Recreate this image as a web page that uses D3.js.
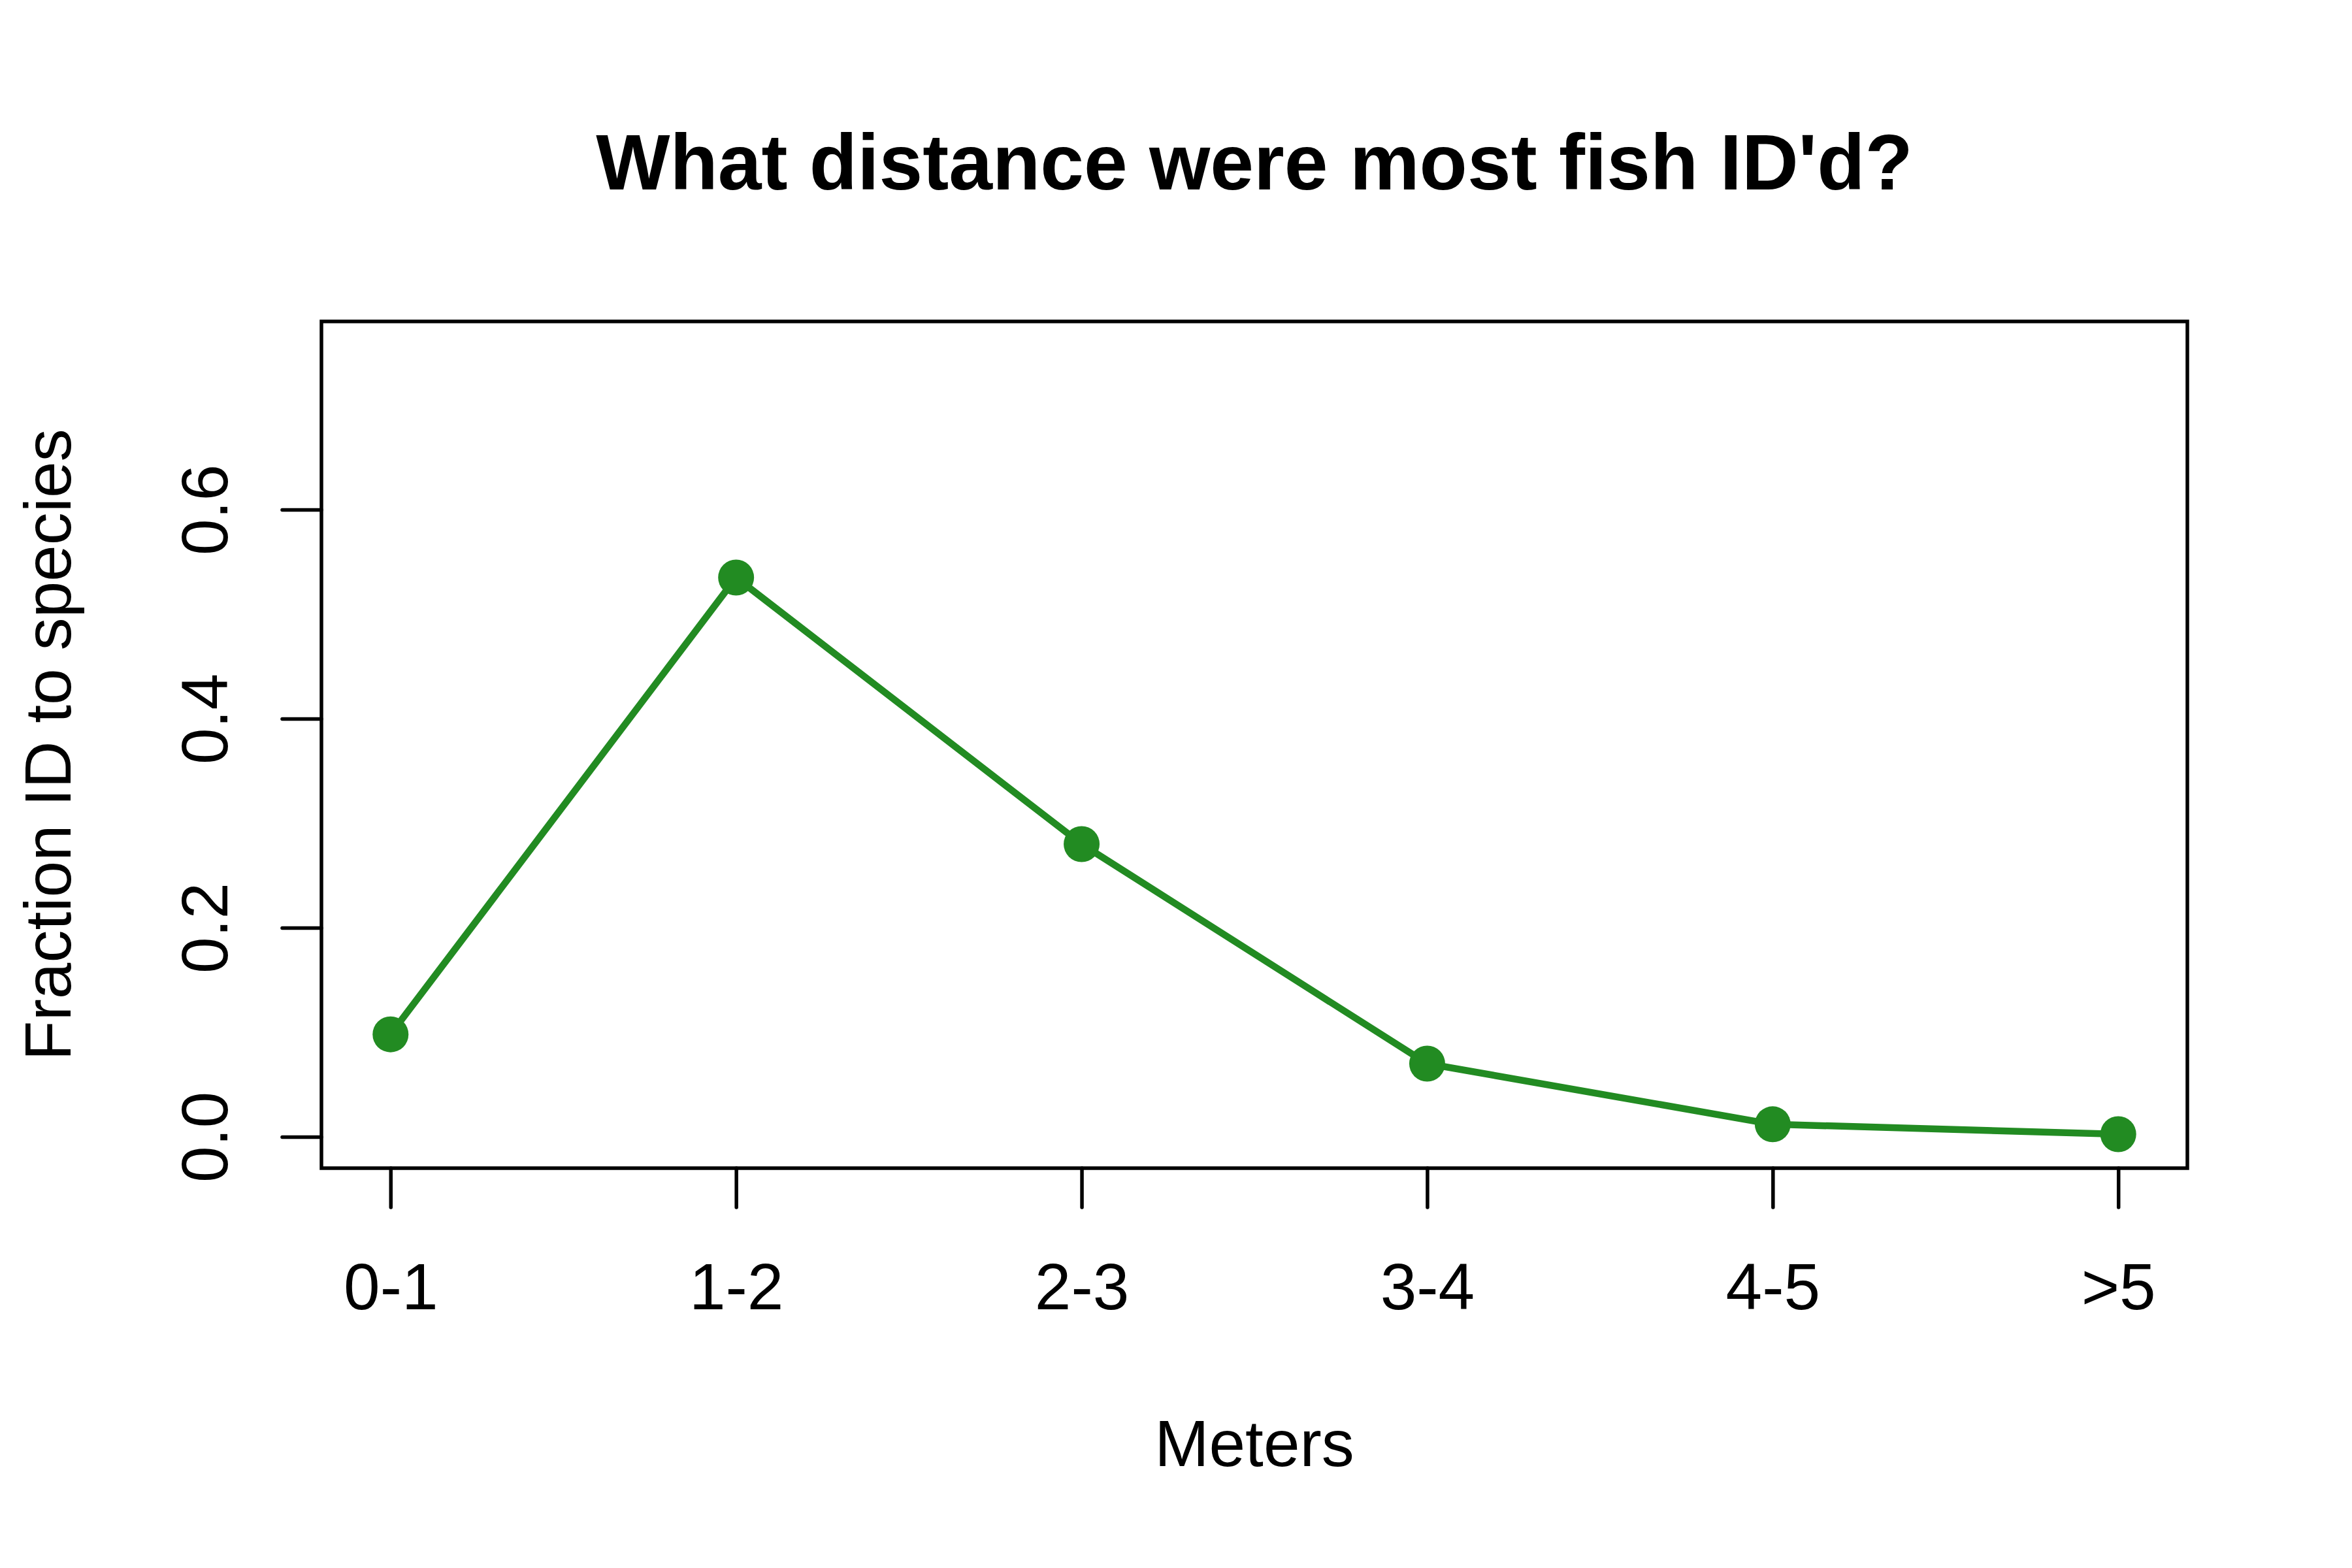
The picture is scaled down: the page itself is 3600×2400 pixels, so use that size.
<!DOCTYPE html>
<html>
<head>
<meta charset="utf-8">
<script src="https://cdn.jsdelivr.net/npm/d3@7"></script>
<style>
  body { margin: 0; background: #fff; }
  text { font-family: "Liberation Sans", Arial, sans-serif; fill: #000; }
</style>
</head>
<body>
<svg id="chart"></svg>
<script>
const width = 3600;
const height = 2400;

// Data
const distances = ["0-1", "1-2", "2-3", "3-4", "4-5", ">5"];
const fractionID = [0.098, 0.535, 0.280, 0.070, 0.012, 0.0025];
const yTicks = [0.0, 0.2, 0.4, 0.6];

// Plot region (R style margins)
const plot = { left: 492, right: 3348, top: 492, bottom: 1788 };

const svg = d3.select("#chart")
    .attr("width", width)
    .attr("height", height);

svg.append("rect")
    .attr("width", width)
    .attr("height", height)
    .attr("fill", "#fff");

// x is the category index 1..6, padded 4% like base R
const x = d3.scaleLinear()
    .domain([0.8, 6.2])
    .range([plot.left, plot.right]);

const y = d3.scaleLinear()
    .domain([-0.03, 0.78])
    .range([plot.bottom, plot.top]);

const idx = distances.map((d, i) => i + 1);

// Bottom axis
const xAxis = svg.append("g")
    .attr("transform", `translate(0,${plot.bottom})`)
    .call(d3.axisBottom(x)
        .tickValues(idx)
        .tickFormat(i => distances[i - 1])
        .tickSize(60)
        .tickSizeOuter(0));
xAxis.select(".domain").remove();
xAxis.selectAll(".tick line")
    .attr("stroke", "#000")
    .attr("stroke-width", 5.5)
    .attr("stroke-linecap", "round");
xAxis.selectAll(".tick text")
    .attr("y", 216)
    .attr("dy", null)
    .attr("font-size", 100)
    .attr("font-family", "Liberation Sans, Arial, sans-serif")
    .attr("fill", "#000");

// Left axis
const yAxis = svg.append("g")
    .attr("transform", `translate(${plot.left},0)`)
    .call(d3.axisLeft(y)
        .tickValues(yTicks)
        .tickFormat(d3.format(".1f"))
        .tickSize(60)
        .tickSizeOuter(0));
yAxis.select(".domain").remove();
yAxis.selectAll(".tick line")
    .attr("stroke", "#000")
    .attr("stroke-width", 5.5)
    .attr("stroke-linecap", "round");
yAxis.selectAll(".tick text")
    .attr("x", null)
    .attr("dy", null)
    .attr("transform", `translate(${348 - plot.left},0) rotate(-90)`)
    .attr("text-anchor", "middle")
    .attr("font-size", 100)
    .attr("font-family", "Liberation Sans, Arial, sans-serif")
    .attr("fill", "#000");

// Box round the plot
svg.append("rect")
    .attr("x", plot.left)
    .attr("y", plot.top)
    .attr("width", plot.right - plot.left)
    .attr("height", plot.bottom - plot.top)
    .attr("fill", "none")
    .attr("stroke", "#000")
    .attr("stroke-width", 5.5);

// The line and points
const line = d3.line()
    .x((d, i) => x(idx[i]))
    .y(d => y(d));

svg.append("path")
    .datum(fractionID)
    .attr("d", line)
    .attr("fill", "none")
    .attr("stroke", "#228B22")
    .attr("stroke-width", 10.5)
    .attr("stroke-linejoin", "round")
    .attr("stroke-linecap", "round");

svg.selectAll("circle.pt")
    .data(fractionID)
    .enter()
    .append("circle")
    .attr("class", "pt")
    .attr("cx", (d, i) => x(idx[i]))
    .attr("cy", d => y(d))
    .attr("r", 27.5)
    .attr("fill", "#228B22");

// Title and axis labels
svg.append("text")
    .attr("x", (plot.left + plot.right) / 2)
    .attr("y", 290)
    .attr("text-anchor", "middle")
    .attr("font-size", 120)
    .attr("font-weight", "bold")
    .text("What distance were most fish ID'd?");

svg.append("text")
    .attr("x", (plot.left + plot.right) / 2)
    .attr("y", 2244)
    .attr("text-anchor", "middle")
    .attr("font-size", 100)
    .text("Meters");

svg.append("text")
    .attr("transform", `translate(108,${(plot.top + plot.bottom) / 2}) rotate(-90)`)
    .attr("text-anchor", "middle")
    .attr("font-size", 100)
    .text("Fraction ID to species");
</script>
</body>
</html>
